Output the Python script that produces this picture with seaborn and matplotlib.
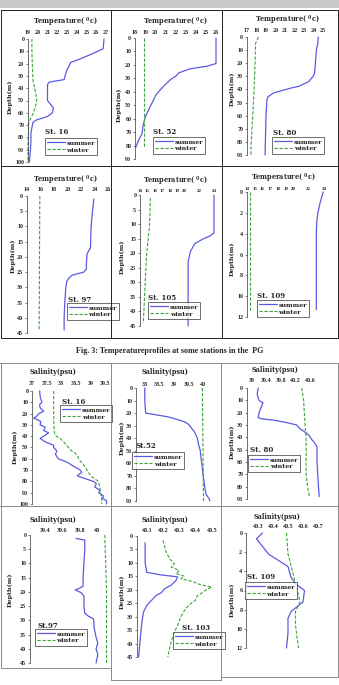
import matplotlib
matplotlib.use("Agg")
import matplotlib.pyplot as plt
import seaborn as sns
import pandas as pd
from matplotlib.lines import Line2D
from matplotlib.patches import Rectangle

W, H = 339, 685

# ---- temperature profiles (value, depth) ----
t16_sum_d = [0, 8, 12, 16, 19, 25, 30, 33, 35, 37, 44, 50, 53, 56, 60, 63, 66, 68, 76, 84, 95, 100]
t16_sum_t = [26.8, 26.7, 25.6, 24.4, 23.4, 23.0, 22.8, 22.7, 21.2, 21.0, 21.0, 21.0, 21.3, 21.6, 21.5, 21.0, 19.8, 19.5, 19.3, 19.3, 19.2, 19.15]
t16_win_d = [0, 10, 22, 33, 37, 44, 49, 54, 61, 65, 69, 76, 84, 100]
t16_win_t = [19.4, 19.4, 19.45, 19.5, 19.6, 19.8, 19.9, 19.8, 19.5, 19.25, 19.05, 19.05, 19.0, 19.0]

t52_sum_d = [0, 19, 21, 23, 26, 28, 31, 36, 42, 51, 59, 65, 71, 77, 81]
t52_sum_t = [26.0, 26.0, 25.1, 23.4, 22.3, 22.1, 21.5, 20.8, 20.1, 19.5, 19.0, 18.8, 18.7, 18.3, 18.1]
t52_win_d = [0, 40, 82]
t52_win_t = [18.9, 18.9, 18.9]

t80_sum_d = [0, 5, 10, 20, 28, 30.5, 34, 37.5, 39, 40.6, 42.6, 45.7, 48, 60, 75, 90]
t80_sum_t = [24.5, 24.45, 24.3, 24.2, 24.1, 23.9, 23.5, 22.5, 21.6, 20.8, 19.8, 19.2, 19.1, 19.0, 18.95, 18.9]
t80_win_d = [0, 5, 20, 40, 60, 80, 90]
t80_win_t = [18.2, 17.9, 17.85, 17.75, 17.6, 17.45, 17.4]

t97_sum_d = [1, 5, 10, 17, 19, 22, 24, 25, 26, 27, 28, 30, 35, 40, 44]
t97_sum_t = [23.9, 23.7, 23.5, 23.4, 22.9, 22.8, 22.8, 22.4, 20.7, 20.2, 19.9, 19.75, 19.6, 19.5, 19.5]
t97_win_d = [0, 20, 44]
t97_win_t = [15.9, 15.85, 15.8]

t105_sum_d = [0, 13, 14, 15, 16.7, 19.5, 23, 30, 45]
t105_sum_t = [24.0, 24.0, 23.5, 22.6, 21.4, 20.8, 20.5, 20.5, 20.5]
t105_win_d = [1, 10, 15, 20, 30, 44]
t105_win_t = [15.4, 15.3, 15.1, 14.9, 14.7, 14.45]

t109_sum_d = [0, 1, 2, 3, 4, 6, 8, 11.3]
t109_sum_t = [23.9, 23.5, 23.2, 23.05, 23.0, 23.0, 23.0, 23.0]
t109_win_d = [0, 11.3]
t109_win_t = [14.4, 14.4]

# ---- salinity profiles (value, depth) ----
s16_sum_d = [0, 5, 10, 12, 15, 18, 20, 22, 24, 25, 27, 30, 32, 35, 37, 40, 42, 45, 48, 50, 53, 56, 60, 63, 67, 70, 72, 75, 77, 80, 82, 85, 88, 90, 93, 95, 97, 100]
s16_sum_s = [37.26, 37.28, 37.34, 37.26, 37.28, 37.4, 37.23, 37.17, 37.06, 37.15, 37.3, 37.28, 37.45, 37.4, 37.57, 37.4, 37.28, 37.45, 37.74, 37.74, 37.85, 37.8, 37.9, 38.2, 38.45, 38.65, 38.7, 38.55, 38.75, 39.1, 39.2, 39.15, 39.33, 39.28, 39.45, 39.4, 39.55, 39.55]
s16_win_d = [0, 10, 20, 30, 35, 38, 40, 42, 45, 48, 50, 53, 55, 58, 60, 62, 65, 70, 73, 76, 78, 80, 83, 87, 90, 95, 100]
s16_win_s = [37.74, 37.74, 37.74, 37.75, 37.76, 37.78, 37.83, 37.97, 38.08, 38.18, 38.25, 38.35, 38.48, 38.57, 38.6, 38.65, 38.76, 38.88, 38.95, 39.05, 39.16, 39.27, 39.3, 39.33, 39.35, 39.38, 39.39]

s52_sum_d = [0, 10, 20, 21, 22, 23, 25, 27, 29, 32, 35, 40, 45, 50, 55, 60, 70, 80, 85, 88, 90]
s52_sum_s = [38.0, 38.0, 38.03, 38.3, 38.55, 38.8, 39.1, 39.37, 39.5, 39.6, 39.7, 39.8, 39.84, 39.9, 39.92, 39.95, 40.0, 40.06, 40.1, 40.2, 40.23]
s52_win_d = [0, 45, 90]
s52_win_s = [39.97, 39.99, 40.01]

s80_sum_d = [0, 5, 10, 12, 15, 20, 24, 25, 26, 28, 30, 33, 35, 38, 42, 45, 48, 55, 60, 70, 80, 88]
s80_sum_s = [39.17, 39.14, 39.19, 39.3, 39.26, 39.19, 39.17, 39.26, 39.58, 39.95, 40.23, 40.32, 40.42, 40.56, 40.65, 40.74, 40.79, 40.79, 40.79, 40.81, 40.83, 40.85]
s80_win_d = [0, 10, 20, 30, 40, 50, 60, 70, 80, 88]
s80_win_s = [40.37, 40.42, 40.44, 40.46, 40.49, 40.49, 40.49, 40.49, 40.53, 40.58]

s97_sum_d = [1.2, 1.8, 5, 10, 15, 18, 18.7, 19.3, 20.3, 21.5, 25, 27.5, 28.5, 29.5, 33, 36, 38, 40, 42, 45]
s97_sum_s = [39.76, 39.86, 39.86, 39.85, 39.84, 39.84, 39.8, 39.75, 39.82, 39.85, 39.85, 39.86, 39.9, 39.96, 39.97, 39.99, 40.01, 39.99, 40.01, 39.99]
s97_win_d = [0, 10, 20, 30, 45]
s97_win_s = [40.09, 40.1, 40.11, 40.11, 40.11]

s103_sum_d = [2.5, 10, 13.5, 14.4, 15.2, 16.5, 18.3, 19.6, 21.1, 22, 23.9, 25.8, 28.3, 32, 38.2, 45]
s103_sum_s = [40.09, 40.09, 40.1, 40.18, 40.29, 40.28, 40.25, 40.21, 40.19, 40.16, 40.13, 40.1, 40.08, 40.07, 40.06, 40.05]
s103_win_d = [1.6, 6, 8.4, 10.3, 11.5, 12.8, 14, 14.9, 15.9, 16.9, 18.1, 19, 19.8, 21.1, 22.3, 23.9, 25.2, 27, 28.9, 31.4, 33.2, 35.7, 39.4, 41.9, 45]
s103_win_s = [40.2, 40.22, 40.24, 40.27, 40.25, 40.3, 40.28, 40.33, 40.31, 40.38, 40.43, 40.5, 40.47, 40.44, 40.41, 40.4, 40.37, 40.34, 40.32, 40.3, 40.29, 40.27, 40.25, 40.24, 40.23]

s109_sum_d = [0, 0.6, 2.2, 3.5, 4.6, 5.3, 6.0, 7.2, 8.2, 8.9, 10.4, 12]
s109_sum_s = [40.33, 40.29, 40.37, 40.5, 40.52, 40.55, 40.61, 40.6, 40.52, 40.5, 40.5, 40.49]
s109_win_d = [0, 2.2, 4.6, 5.4, 6.5, 7.2, 8.2, 9.6, 12]
s109_win_s = [40.49, 40.5, 40.54, 40.55, 40.57, 40.58, 40.55, 40.55, 40.57]

# ticks
t_xticks_16 = [19, 20, 21, 22, 23, 24, 25, 26, 27]
t_xticks_52 = [18, 19, 20, 21, 22, 23, 24, 25, 26]
t_xticks_80 = [17, 18, 19, 20, 21, 22, 23, 24, 25]
t_xticks_97 = [14, 16, 18, 20, 22, 24, 26]
t_xticks_105 = [14, 15, 16, 17, 18, 19, 20, 22, 24]
s_xticks_16 = [37, 37.5, 38, 38.5, 39, 39.5]
s_xticks_52 = [38, 38.5, 39, 39.5, 40]
s_xticks_80 = [39, 39.4, 39.8, 40.2, 40.6]
s_xticks_97 = [39.4, 39.6, 39.8, 40]
s_xticks_103 = [40.1, 40.2, 40.3, 40.4, 40.5]
s_xticks_109 = [40.3, 40.4, 40.5, 40.6, 40.7]

sns.set_theme(style="white")
plt.rcParams["font.family"] = ["DejaVu Serif"]
plt.rcParams["font.weight"] = "bold"
plt.rcParams["mathtext.fontset"] = "dejavuserif"

SUMMER = "#5b5be3"
WINTER = "#3ea43e"
T_TITLE = r"Temperature( $^{0}$c)"
S_TITLE = "Salinity(psu)"
TICK_FONT = "Liberation Serif"

fig = plt.figure(figsize=(W / 100, H / 100), dpi=100)


def fx(x):
    return x / W


def fy(y):
    return 1 - y / H


def hline(y, x0, x1, color, lw=0.7):
    fig.add_artist(Line2D([fx(x0), fx(x1)], [fy(y), fy(y)], color=color, lw=lw))


def vline(x, y0, y1, color, lw=0.7):
    fig.add_artist(Line2D([fx(x), fx(x)], [fy(y0), fy(y1)], color=color, lw=lw))


# gray band at the top (end of previous figure) and panel frames
fig.add_artist(Rectangle((0, fy(8)), 1, 8 / H, color="#c9c9c9", lw=0))
for y in (10, 166, 338):
    hline(y, 1, 338, "#222222")
for x in (1, 111, 222, 338):
    vline(x, 10, 338, "#222222")
hline(363, 0, 339, "#8a8a8a")
hline(506, 0, 339, "#8a8a8a")
for x0, x1, yb in ((1, 111, 668), (111, 221, 680), (221, 338, 677)):
    hline(yb, x0, x1, "#8a8a8a")
for x, yb in ((1, 668), (111, 680), (221, 680), (338, 677)):
    vline(x, 363, yb, "#8a8a8a")

fig.text(fx(170), fy(351), "Fig. 3: Temperatureprofiles at some stations in the  PG",
         ha="center", va="center", fontsize=5.8, fontweight="bold", family="Liberation Serif")

panels = [
    # temperature row 1
    dict(box=(28, 39, 106, 162), xlim=(19, 27), xt=t_xticks_16, ylim=100, ystep=10,
         s=(t16_sum_t, t16_sum_d), w=(t16_win_t, t16_win_d), title=T_TITLE, tpos=(65, 22), ty=32,
         ylab=(10, 97), st="St. 16", stpos=(45, 132), leg=(45, 138)),
    dict(box=(135, 38, 216, 159), xlim=(18, 26), xt=t_xticks_52, ylim=90, ystep=10,
         s=(t52_sum_t, t52_sum_d), w=(t52_win_t, t52_win_d), title=T_TITLE, tpos=(175, 22), ty=32,
         ylab=(119, 105), st="St. 52", stpos=(153, 132), leg=(153, 137)),
    dict(box=(247, 37, 323, 155), xlim=(17, 25), xt=t_xticks_80, ylim=90, ystep=10,
         s=(t80_sum_t, t80_sum_d), w=(t80_win_t, t80_win_d), title=T_TITLE, tpos=(287, 20), ty=30.5,
         ylab=(232, 89), st="St. 80", stpos=(273, 133), leg=(272, 137)),
    # temperature row 2
    dict(box=(27, 196, 108, 333), xlim=(14, 26), xt=t_xticks_97, ylim=45, ystep=5,
         s=(t97_sum_t, t97_sum_d), w=(t97_win_t, t97_win_d), title=T_TITLE, tpos=(65, 180), ty=190,
         ylab=(13, 256), st="St. 97", stpos=(68, 300), leg=(67, 303)),
    dict(box=(140, 195, 214, 326), xlim=(14, 24), xt=t_xticks_105, ylim=45, ystep=5, xfs=3.5,
         s=(t105_sum_t, t105_sum_d), w=(t105_win_t, t105_win_d), title=T_TITLE, tpos=(175, 181), ty=190,
         ylab=(122, 257), st="St. 105", stpos=(148, 298), leg=(148, 302)),
    dict(box=(247, 192, 324, 317), xlim=(14, 24), xt=t_xticks_105, ylim=12, ystep=2, xfs=3.5,
         s=(t109_sum_t, t109_sum_d), w=(t109_win_t, t109_win_d), title=T_TITLE, tpos=(283, 178), ty=188,
         ylab=(232, 259), st="St. 109", stpos=(257, 296), leg=(257, 300)),
    # salinity row 1
    dict(box=(32, 391, 108, 504), xlim=(37, 39.6), xt=s_xticks_16, ylim=100, ystep=10,
         s=(s16_sum_s, s16_sum_d), w=(s16_win_s, s16_win_d), title=S_TITLE, tpos=(53, 372), ty=384,
         ylab=(15, 447), st="St. 16", stpos=(62, 402), leg=(60, 405)),
    dict(box=(136, 388, 212, 501), xlim=(37.7, 40.3), xt=s_xticks_52, ylim=90, ystep=10,
         s=(s52_sum_s, s52_sum_d), w=(s52_win_s, s52_win_d), title=S_TITLE, tpos=(165, 372), ty=384,
         ylab=(122, 438), st="St.52", stpos=(135, 446), leg=(132, 452)),
    dict(box=(247, 388, 321, 499), xlim=(38.86, 40.9), xt=s_xticks_80, ylim=90, ystep=10,
         s=(s80_sum_s, s80_sum_d), w=(s80_win_s, s80_win_d), title=S_TITLE, tpos=(275, 370), ty=381,
         ylab=(232, 442), st="St. 80", stpos=(250, 450), leg=(248, 455)),
    # salinity row 2
    dict(box=(30, 535, 110, 663), xlim=(39.23, 40.15), xt=s_xticks_97, ylim=45, ystep=5,
         s=(s97_sum_s, s97_sum_d), w=(s97_win_s, s97_win_d), title=S_TITLE, tpos=(53, 520), ty=530,
         ylab=(10, 590), st="St.97", stpos=(37, 626), leg=(35, 629)),
    dict(box=(137, 536, 215, 657), xlim=(40.04, 40.52), xt=s_xticks_103, ylim=45, ystep=5,
         s=(s103_sum_s, s103_sum_d), w=(s103_win_s, s103_win_d), title=S_TITLE, tpos=(165, 520), ty=530,
         ylab=(122, 592), st="St. 103", stpos=(182, 628), leg=(173, 632)),
    dict(box=(246, 533, 324, 648), xlim=(40.22, 40.74), xt=s_xticks_109, ylim=12, ystep=2,
         s=(s109_sum_s, s109_sum_d), w=(s109_win_s, s109_win_d), title=S_TITLE, tpos=(277, 517), ty=526,
         ylab=(232, 600), st="St. 109", stpos=(247, 577), leg=(245, 582)),
]

FS_TICK = 4.3
for p in panels:
    l, t, r, b = p["box"]
    ax = fig.add_axes([fx(l), fy(b), (r - l) / W, (b - t) / H])
    ax.set_facecolor("none")

    summer = pd.DataFrame({"value": p["s"][0], "depth": p["s"][1]})
    winter = pd.DataFrame({"value": p["w"][0], "depth": p["w"][1]})
    sns.lineplot(data=summer, x="value", y="depth", orient="y", estimator=None,
                 color=SUMMER, lw=0.9, label="summer", ax=ax, clip_on=False)
    sns.lineplot(data=winter, x="value", y="depth", orient="y", estimator=None,
                 color=WINTER, lw=0.8, linestyle=(0, (3, 1.5)), label="winter", ax=ax, clip_on=False)

    ax.set_xlim(*p["xlim"])
    ax.set_ylim(p["ylim"], 0)
    ax.set_xticks(p["xt"])
    ax.set_xticklabels([f"{v:g}" for v in p["xt"]])
    ax.set_yticks(list(range(0, p["ylim"] + 1, p["ystep"])))
    ax.set_xlabel("")
    ax.set_ylabel("")

    pad_px = t - p["ty"] - 2.5
    ax.tick_params(axis="x", top=True, bottom=False, labeltop=True, labelbottom=False,
                   length=0, pad=pad_px * 0.72, labelsize=p.get("xfs", FS_TICK))
    ax.tick_params(axis="y", left=True, length=1.5, width=0.4, pad=1.2, labelsize=FS_TICK)
    for lbl in ax.get_xticklabels() + ax.get_yticklabels():
        lbl.set_family(TICK_FONT)
        lbl.set_fontweight("bold")
    for sp in ("top", "right", "bottom"):
        ax.spines[sp].set_visible(False)
    ax.spines["left"].set_color("#333333")
    ax.spines["left"].set_linewidth(0.5)

    fig.text(fx(p["tpos"][0]), fy(p["tpos"][1]), p["title"], ha="center", va="center",
             fontsize=4.7, fontweight="bold")
    fig.text(fx(p["ylab"][0]), fy(p["ylab"][1]), "Depth(m)", ha="center", va="center",
             rotation=90, fontsize=4.6, fontweight="bold")
    fig.text(fx(p["stpos"][0]), fy(p["stpos"][1]), p["st"], ha="left", va="center",
             fontsize=5.0, fontweight="bold")

    handles, labels = ax.get_legend_handles_labels()
    leg = ax.legend(handles, labels, loc="upper left",
                    bbox_to_anchor=(fx(p["leg"][0]), fy(p["leg"][1])), bbox_transform=fig.transFigure,
                    borderaxespad=0, fontsize=4.5, handlelength=2.8, handletextpad=0.3,
                    borderpad=0.35, labelspacing=0.25, frameon=True, fancybox=False)
    leg.get_frame().set_edgecolor("black")
    leg.get_frame().set_linewidth(0.5)
    leg.set_zorder(5)

fig.savefig("out.png", dpi=100)
